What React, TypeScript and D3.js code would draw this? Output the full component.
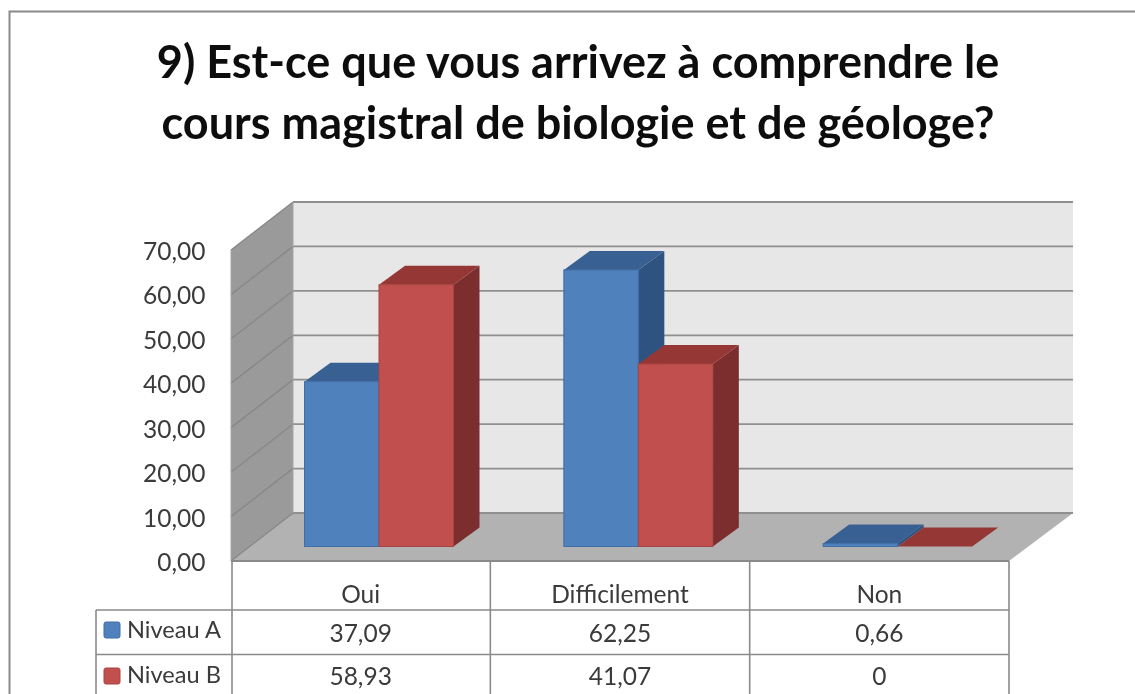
import React from "react";
import * as d3 from "d3";

const categories = ["Oui", "Difficilement", "Non"];
const niveauA = [37.09, 62.25, 0.66];
const niveauB = [58.93, 41.07, 0];
const labelsA = ["37,09", "62,25", "0,66"];
const labelsB = ["58,93", "41,07", "0"];
const ticks = [0, 10, 20, 30, 40, 50, 60, 70];
const titleLines = ["9) Est-ce que vous arrivez à comprendre le", "cours magistral de biologie et de géologe?"];

const FONT = "Lato, Carlito, sans-serif";
const frontLeft = 231, frontRight = 1009, frontBase = 561;
const wallDx = 62, wallDy = -48;
const y = d3.scaleLinear().domain([0, 70]).range([0, 311]);
const x0 = d3.scaleBand().domain(categories).range([frontLeft + 1, frontRight + 1]);
const barW = 74.5, barDx = 26, barDy = -19, barBase = 546.5;
const pts = (p: number[][]) => p.map((q) => q.join(",")).join(" ");

function Bar({ x, v, front, top, side }: { x: number; v: number; front: string; top: string; side: string }) {
  const h = y(v);
  const t = barBase - h;
  return (
    <g>
      <polygon points={pts([[x + barW, barBase], [x + barW + barDx, barBase + barDy], [x + barW + barDx, t + barDy], [x + barW, t]])} fill={side} />
      <polygon points={pts([[x, t], [x + barDx, t + barDy], [x + barW + barDx, t + barDy], [x + barW, t]])} fill={top} />
      <rect x={x} y={t} width={barW} height={h} fill={front} stroke={front === "#4f81bd" ? "#3f6ea6" : "#a84441"} strokeWidth={1} />
    </g>
  );
}

export default function App() {
  const wallL = frontLeft + wallDx, wallR = frontRight + 64, rows = [610, 654.5, 699];
  return (
    <svg width={1135} height={694} style={{ position: "fixed", left: 0, top: 0, background: "#fff", fontFamily: FONT }}>
      <defs>
        <filter id="soft"><feGaussianBlur stdDeviation="0.55" /></filter>
      </defs>
      <path d="M9.5,694 V11.5 H1135" fill="none" stroke="#8a8a8a" strokeWidth={2} />
      <g filter="url(#soft)">
        {titleLines.map((s, i) => (
          <text key={s} x={578} y={78 + i * 61} textAnchor="middle" fontSize={45} fontWeight={700} fill="#111">{s}</text>
        ))}
        <polygon points={pts([[wallL, frontBase + wallDy], [wallR, frontBase + wallDy], [wallR, frontBase + wallDy - y(70)], [wallL, frontBase + wallDy - y(70)]])} fill="#e7e7e7" />
        <polygon points={pts([[frontLeft, frontBase], [wallL, frontBase + wallDy], [wallL, frontBase + wallDy - y(70)], [frontLeft, frontBase - y(70)]])} fill="#9a9a9a" />
        <polygon points={pts([[frontLeft, frontBase], [wallL, frontBase + wallDy], [wallR, frontBase + wallDy], [frontRight, frontBase]])} fill="#b2b2b2" />
        {ticks.map((t) => (
          <g key={t}>
            <line x1={frontLeft} y1={frontBase - y(t)} x2={wallL} y2={frontBase + wallDy - y(t)} stroke="#858585" strokeWidth={1.2} />
            <line x1={wallL} y1={frontBase + wallDy - y(t)} x2={wallR} y2={frontBase + wallDy - y(t)} stroke="#8f8f8f" strokeWidth={1.8} />
            <text x={205.5} y={frontBase - y(t) + 10} textAnchor="end" fontSize={24.5} fill="#3a3a3a">{t.toFixed(2).replace(".", ",")}</text>
          </g>
        ))}
        <line x1={wallL} y1={frontBase + wallDy - y(70)} x2={wallL} y2={frontBase + wallDy} stroke="#a5a5a5" strokeWidth={1} />
        {categories.map((c, i) => {
          const gx = x0(c)! + 72.5;
          return (
            <g key={c}>
              <Bar x={gx} v={niveauA[i]} front="#4f81bd" top="#376092" side="#2f5280" />
              <Bar x={gx + barW} v={niveauB[i]} front="#c0504d" top="#953735" side="#7b2f2e" />
            </g>
          );
        })}
        <line x1={frontLeft} y1={frontBase} x2={frontRight} y2={frontBase} stroke="#8a8a8a" strokeWidth={2} />
        <line x1={frontLeft} y1={frontBase} x2={frontLeft} y2={frontBase - y(70)} stroke="#a5a5a5" strokeWidth={1} />
        {[frontLeft + 1, x0("Difficilement")! - 1, x0("Non")! - 1, frontRight].map((vx) => (
          <line key={vx} x1={vx} y1={frontBase} x2={vx} y2={694} stroke="#8a8a8a" strokeWidth={1.6} />
        ))}
        <line x1={96} y1={rows[0]} x2={96} y2={694} stroke="#8a8a8a" strokeWidth={1.6} />
        {rows.map((r) => (
          <line key={r} x1={96} y1={r} x2={frontRight} y2={r} stroke="#8a8a8a" strokeWidth={1.6} />
        ))}
        {categories.map((c, i) => {
          const cx = x0(c)! + x0.bandwidth() / 2 - 1;
          return (
            <g key={c} fontSize={24.5} fill="#3a3a3a" textAnchor="middle">
              <text x={cx} y={603}>{c}</text>
              <text x={cx} y={642}>{labelsA[i]}</text>
              <text x={cx} y={685}>{labelsB[i]}</text>
            </g>
          );
        })}
        <rect x={104} y={622} width={16} height={16} rx={2} fill="#4f81bd" stroke="#3f6ea6" />
        <rect x={104} y={668} width={16} height={16} rx={2} fill="#c0504d" stroke="#a84441" />
        <text x={127} y={638} fontSize={23.6} fill="#3a3a3a">Niveau A</text>
        <text x={127} y={683} fontSize={23.6} fill="#3a3a3a">Niveau B</text>
      </g>
    </svg>
  );
}
